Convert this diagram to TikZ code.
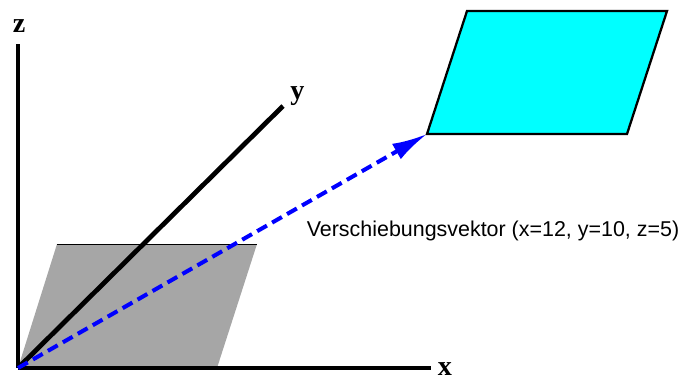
\documentclass[tikz,border=0pt]{standalone}
\usepackage{fontspec}
\setmainfont{Liberation Sans}
\newfontfamily\axisfont{Liberation Serif}
\usetikzlibrary{arrows.meta}
\definecolor{planegray}{HTML}{A6A6A6}
\definecolor{planecyan}{HTML}{00FFFF}
\definecolor{vectorblue}{HTML}{0000FF}
\begin{document}
\begin{tikzpicture}[
      axis/.style={draw=black,line width=2.7pt},
      axislabel/.style={inner sep=0pt,font=\axisfont\fontsize{16}{16}\selectfont\bfseries},
      vector/.style={draw=vectorblue,line width=2.3pt,dash pattern=on 6.4pt off 3.4pt,
                     -{Latex[length=20pt,width=10pt]}}]
    \useasboundingbox (0,0) rectangle (13.6,7.58);
    \coordinate (origin) at (0.36,0.22);
    \coordinate (xend)   at (8.62,0.22);
    \coordinate (yend)   at (5.66,5.46);
    \coordinate (zend)   at (0.36,6.70);
    \coordinate (target) at (8.54,4.90);
    % lower plane
    \fill[planegray] (origin) -- (1.14,2.70) -- (5.14,2.70) -- (4.34,0.22) -- cycle;
    \draw[line width=0.4pt] (1.14,2.70) -- (5.14,2.70);
    % upper plane
    \draw[fill=planecyan,line width=1.3pt,line join=miter] (target) -- (9.34,7.36) -- (13.34,7.36) -- (12.54,4.90) -- cycle;
    % axes
    \draw[axis] (origin) -- (zend);
    \draw[axis] (origin) -- (xend);
    \draw[axis] (origin) -- (yend);
    \node[axislabel] (zlabel) at (0.38,7.06){z};
    \node[axislabel] (ylabel) at (5.95,5.66){y};
    \node[axislabel] (xlabel) at (8.90,0.20){x};
    % shift
    \draw[vector] (origin) -- (target);
    \node[inner sep=0pt,font=\fontsize{12.2}{14}\selectfont] (shiftlabel) at (9.86,2.97){Verschiebungsvektor (x=12, y=10, z=5)};
  \end{tikzpicture}
\end{document}
